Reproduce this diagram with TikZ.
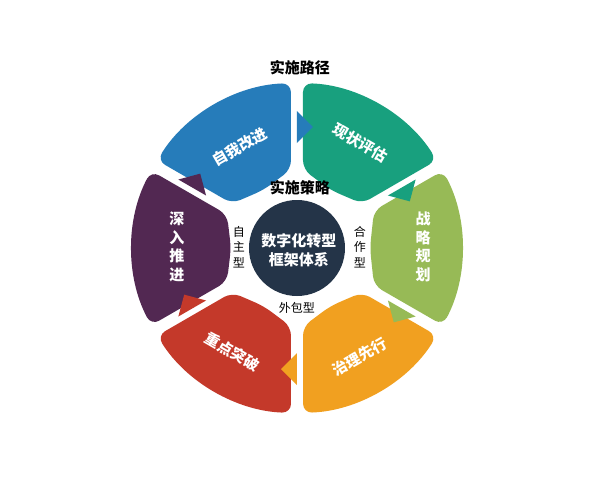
\documentclass[tikz,border=0pt]{standalone}
\usepackage{fontspec}
\newfontfamily\cjk{Noto Sans CJK SC}
\definecolor{cblue}{RGB}{38,124,186}
\definecolor{cgreen}{RGB}{24,160,126}
\definecolor{clgreen}{RGB}{151,186,86}
\definecolor{corange}{RGB}{241,160,32}
\definecolor{cred}{RGB}{196,57,42}
\definecolor{cpurple}{RGB}{82,40,82}
\definecolor{cnavy}{RGB}{36,52,72}
% #1 rotation, #2 colour, #3 inner distance
\newcommand\ringseg[3]{%
  \begin{scope}[rotate=#1]
    \pgfmathsetmacro\tin{(#3-3)/0.866}
    \pgfmathsetmacro\yin{\tin*0.5-5.196}
    \pgfmathsetmacro\xmid{#3-4}
    \fill[segshape=#2] (#3,-\yin) -- (\xmid,0) -- (#3,\yin) -- (145.8,77.25)
      arc[start angle=27.9, end angle=-27.9, radius=165] -- cycle;
  \end{scope}}
\newcommand\gaptri[2]{%
  \begin{scope}[rotate=#1]
    \fill[#2] (105,0) -- (137,0) -- (121,-16) -- cycle;
  \end{scope}}
\tikzset{
  segshape/.style={fill=#1, rounded corners=9pt},
  seglabel/.style={text=white, font=\cjk\bfseries\fontsize{15}{18.5}\selectfont, align=center, inner sep=0pt},
  plainlabel/.style={text=black, font=\cjk\fontsize{12}{15.5}\selectfont, align=center, inner sep=0pt},
  headlabel/.style={text=black, font=\cjk\bfseries\fontsize{15}{18}\selectfont, inner sep=0pt},
}
\begin{document}
\begin{tikzpicture}[x=1pt,y=1pt]
\useasboundingbox (-297,-232) rectangle (303,248);
\fill[white] (-297,-232) rectangle (303,248);
% ring segments
\ringseg{120}{cblue}{71}
\ringseg{60}{cgreen}{71}
\ringseg{0}{clgreen}{77}
\ringseg{-60}{corange}{71}
\ringseg{-120}{cred}{71}
\ringseg{180}{cpurple}{70}
% arrows in the gaps
\gaptri{90}{cblue}
\gaptri{30}{cgreen}
\gaptri{-30}{clgreen}
\gaptri{-90}{corange}
\gaptri{-150}{cred}
\gaptri{150}{cpurple}
% centre
\fill[cnavy] (0,0) circle[radius=48];
\node[seglabel, font=\cjk\bfseries\fontsize{15}{19}\selectfont] (core) at (2,-2) {数字化转型\\框架体系};
% segment labels
\node[seglabel, rotate=30] (s1) at (-57,101) {自我改进};
\node[seglabel, rotate=-30] (s2) at (63,105) {现状评估};
\node[seglabel] (s3) at (126,1) {战\\略\\规\\划};
\node[seglabel, rotate=30] (s4) at (63,-109) {治理先行};
\node[seglabel, rotate=-30] (s5) at (-65,-104) {重点突破};
\node[seglabel] (s6) at (-120,1) {深\\入\\推\\进};
% headings and strategy labels
\node[headlabel] (path) at (3,180) {实施路径};
\node[headlabel] (strat) at (3,60) {实施策略};
\node[plainlabel] (self) at (-58,1) {自\\主\\型};
\node[plainlabel] (coop) at (63,1) {合\\作\\型};
\node[plainlabel] (outs) at (0,-60) {外包型};
\end{tikzpicture}
\end{document}
